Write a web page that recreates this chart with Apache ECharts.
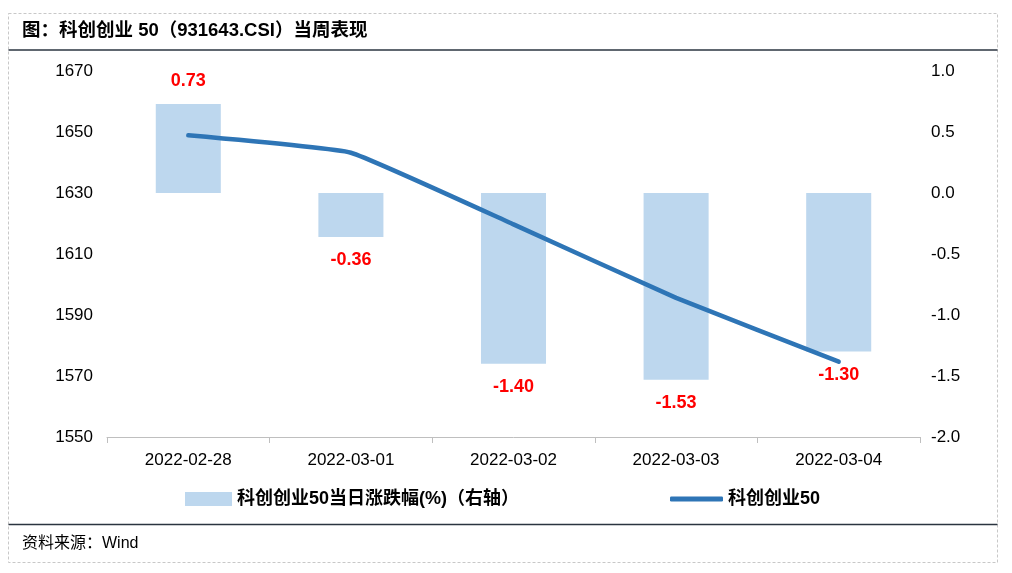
<!DOCTYPE html>
<html><head><meta charset="utf-8">
<script src="https://cdn.jsdelivr.net/npm/echarts@6/dist/echarts.min.js"></script>
<style>html,body{margin:0;padding:0;background:#fff}#c{width:1012px;height:573px}</style>
</head><body><div id="c"></div>
<script>
const categories = ['2022-02-28','2022-03-01','2022-03-02','2022-03-03','2022-03-04'];
const dailyChange = [0.73, -0.36, -1.40, -1.53, -1.30];
const indexClose = [1648.9, 1643.2, 1619.7, 1595.6, 1574.7];
const leftTicks = {min:1550, max:1670, interval:20};
const rightTicks = {min:-2, max:1, interval:0.5};
const barName = '科创创业50当日涨跌幅(%)（右轴）';
const lineName = '科创创业50';
const titleText = '图：科创创业 50（931643.CSI）当周表现';
const sourceText = '资料来源：Wind';

const FONT = '"Liberation Sans", Arial, "Noto Sans CJK SC", sans-serif';
const chart = echarts.init(document.getElementById('c'));
chart.setOption({
  backgroundColor:'#fff',
  animation:false,
  textStyle:{fontFamily:FONT},
  grid:{left:107, right:92, top:71, bottom:136},
  legend:[
    {left:185, top:490, padding:0, itemWidth:47, itemHeight:14, itemGap:6, icon:'rect',
     data:[barName], textStyle:{fontFamily:FONT, fontSize:18, fontWeight:'bold', color:'#000'}},
    {left:670, top:490, padding:0, itemWidth:53, itemHeight:5, icon:'roundRect',
     data:[lineName], textStyle:{fontFamily:FONT, fontSize:18, fontWeight:'bold', color:'#000'}}
  ],
  xAxis:{type:'category', data:categories,
    axisLine:{onZero:false, lineStyle:{color:'#bfbfbf', width:1}},
    axisTick:{show:true, alignWithLabel:false, length:6, lineStyle:{color:'#bfbfbf'}},
    axisLabel:{fontSize:17, color:'#000', margin:15, fontFamily:FONT}},
  yAxis:[
    {type:'value', min:leftTicks.min, max:leftTicks.max, interval:leftTicks.interval,
     splitLine:{show:false}, axisLine:{show:false}, axisTick:{show:false},
     axisLabel:{fontSize:17, color:'#000', margin:14, fontFamily:FONT, formatter:v=>String(v)}},
    {type:'value', min:rightTicks.min, max:rightTicks.max, interval:rightTicks.interval,
     splitLine:{show:false}, axisLine:{show:false}, axisTick:{show:false},
     axisLabel:{fontSize:17, color:'#000', margin:11, fontFamily:FONT,
       formatter:v=>v.toFixed(1)}}
  ],
  series:[
    {name:barName, type:'bar', yAxisIndex:1, barWidth:'40%',
     itemStyle:{color:'#BDD7EE'},
     data:dailyChange.map(v=>({value:v, label:{show:true, position: v>=0?'top':'bottom', distance:14,
        formatter:p=>p.value.toFixed(2), color:'#FF0000', fontSize:18, fontWeight:'bold', fontFamily:FONT}})),
     z:2},
    {name:lineName, type:'line', yAxisIndex:0, data:indexClose, smooth:0.1,
     symbol:'none', lineStyle:{color:'#2E75B6', width:4.5, cap:'round'},
     itemStyle:{color:'#2E75B6'}, z:5}
  ],
  graphic:[
    {type:'rect', shape:{x:8.5, y:13.5, width:989, height:549}, silent:true,
     style:{fill:'none', stroke:'#c8c8c8', lineWidth:1, lineDash:[3,2]}},
    {type:'line', shape:{x1:8.5, y1:50, x2:997.5, y2:50}, style:{stroke:'#2b3440', lineWidth:1.5}},
    {type:'line', shape:{x1:8.5, y1:524.5, x2:997.5, y2:524.5}, style:{stroke:'#2b3440', lineWidth:1.5}},
    {type:'text', left:22, top:22, style:{text:titleText, fontSize:18.5, fontWeight:'bold', fill:'#000', fontFamily:FONT}},
    {type:'text', left:22, top:536, style:{text:sourceText, fontSize:16, fill:'#000', fontFamily:FONT}}
  ]
});
</script></body></html>
